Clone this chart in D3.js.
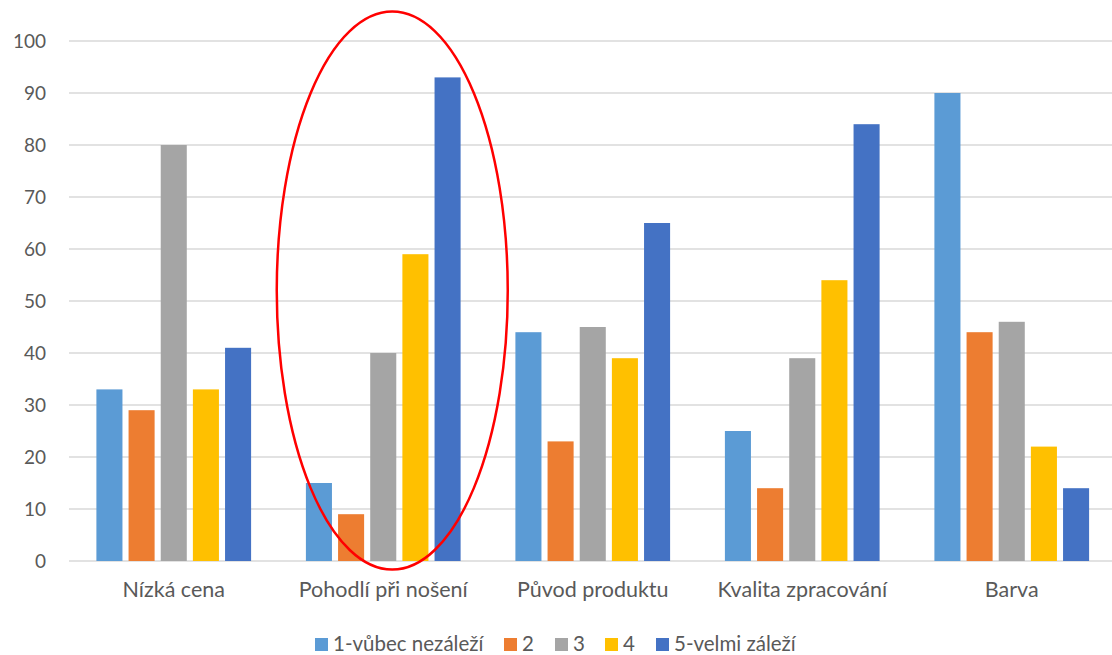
<!DOCTYPE html>
<html><head><meta charset="utf-8">
<script src="https://cdn.jsdelivr.net/npm/d3@7"></script>
<style>body{margin:0;background:#fff;} svg{display:block;font-family:Lato,"Liberation Sans",sans-serif;}</style>
</head><body>
<svg id="c" width="1112" height="655"></svg>
<script>
const categories = ["Nízká cena","Pohodlí při nošení","Původ produktu","Kvalita zpracování","Barva"];
const seriesNames = ["1-vůbec nezáleží","2","3","4","5-velmi záleží"];
const s1 = [33,15,44,25,90];
const s2 = [29,9,23,14,44];
const s3 = [80,40,45,39,46];
const s4 = [33,59,39,54,22];
const s5 = [41,93,65,84,14];
const yTicks = [0,10,20,30,40,50,60,70,80,90,100];
const colors = ["#5B9BD5","#ED7D31","#A5A5A5","#FFC000","#4472C4"];
const series = [s1,s2,s3,s4,s5];

const svg = d3.select("#c");
const x0 = d3.scaleBand().domain(categories).range([69,1116.5]).paddingInner(0).paddingOuter(0);
const x1 = d3.scaleBand().domain(seriesNames).range([27.4, x0.bandwidth()-27.4]).paddingInner(0.19).paddingOuter(0);
const y = d3.scaleLinear().domain([0,100]).range([561,41]);

// gridlines
svg.append("g").selectAll("line").data(yTicks).join("line")
  .attr("x1",69).attr("x2",1116).attr("y1",d=>y(d)).attr("y2",d=>y(d))
  .attr("stroke","#D9D9D9").attr("stroke-width",1.3);

// y axis labels
const yAxis = d3.axisLeft(y).tickValues(yTicks).tickSize(0).tickPadding(0);
const ga = svg.append("g").attr("transform","translate(46,0)").call(yAxis);
ga.select(".domain").remove();
ga.selectAll("text").attr("font-size",19).attr("fill","#595959").attr("font-family","Lato,'Liberation Sans',sans-serif");

// bars
const groups = svg.append("g").selectAll("g").data(categories).join("g")
  .attr("transform",d=>`translate(${x0(d)},0)`);
groups.selectAll("rect").data((d,i)=>series.map((s,j)=>({name:seriesNames[j],v:s[i],c:colors[j]})))
  .join("rect")
  .attr("x",d=>x1(d.name)).attr("width",x1.bandwidth())
  .attr("y",d=>y(d.v)).attr("height",d=>y(0)-y(d.v))
  .attr("fill",d=>d.c);

// x axis labels
const xAxis = d3.axisBottom(x0).tickSize(0).tickPadding(0);
const gx = svg.append("g").attr("transform","translate(0,582)").call(xAxis);
gx.select(".domain").remove();
gx.selectAll("text").attr("font-size",21.5).attr("fill","#595959").attr("font-family","Lato,'Liberation Sans',sans-serif");

// annotation ellipse around "Pohodlí při nošení"
const pc = x0(categories[1]) + x0.bandwidth()/2 + 9;
svg.append("ellipse").attr("cx",pc).attr("cy",y(52)).attr("rx",115.5).attr("ry",279)
  .attr("fill","none").attr("stroke","#FF0000").attr("stroke-width",2.5);

// legend
const legX = [315,504,555,605,656];
const lg = svg.append("g").selectAll("g").data(seriesNames).join("g")
  .attr("transform",(d,i)=>`translate(${legX[i]},638)`);
lg.append("rect").attr("width",13).attr("height",13).attr("fill",(d,i)=>colors[i]);
lg.append("text").attr("x",18).attr("y",13).attr("font-size",20.5).attr("fill","#595959").text(d=>d);
</script>
</body></html>
